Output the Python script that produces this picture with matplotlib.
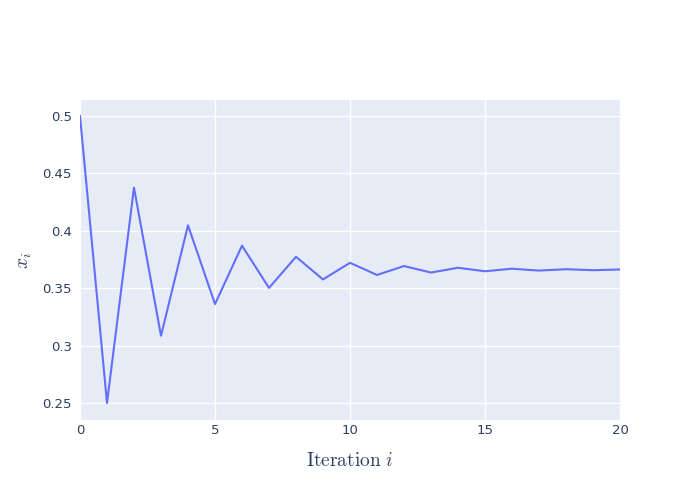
import matplotlib
matplotlib.use("Agg")
import matplotlib.pyplot as plt

iterations = list(range(21))
x_values = [0.5, 0.25, 0.4375, 0.30859, 0.40477, 0.33616, 0.38700, 0.35023,
            0.37734, 0.35762, 0.37211, 0.36153, 0.36929, 0.36362, 0.36778,
            0.36474, 0.36697, 0.36534, 0.36653, 0.36566, 0.36630]
xticks = [0, 5, 10, 15, 20]
yticks = [0.25, 0.3, 0.35, 0.4, 0.45, 0.5]
ytick_labels = ["0.25", "0.3", "0.35", "0.4", "0.45", "0.5"]

plt.rcParams['mathtext.fontset'] = 'cm'

fig = plt.figure(figsize=(7, 5), dpi=100)
ax = fig.add_axes([80 / 700, 80 / 500, 540 / 700, 320 / 500])
ax.set_facecolor('#E5ECF6')

ax.plot(iterations, x_values, color='#636EFA', linewidth=1.5, zorder=3)

ax.set_xlim(0, 20)
ax.set_ylim(0.2352, 0.5139)
ax.set_xticks(xticks)
ax.set_yticks(yticks)
ax.set_yticklabels(ytick_labels)
ax.grid(True, color='white', linewidth=1, zorder=0)
ax.set_axisbelow(True)
for s in ax.spines.values():
    s.set_visible(False)
ax.tick_params(axis='x', length=0, labelsize=9.5, labelcolor='#2a3f5f', pad=3)
ax.tick_params(axis='y', length=0, labelsize=9.5, labelcolor='#2a3f5f', pad=6)

ax.set_xlabel(r'$\mathrm{Iteration}\ i$', fontsize=14, color='#2a3f5f', labelpad=10)
ax.set_ylabel(r'$x_i$', fontsize=14, color='#2a3f5f', labelpad=6)

fig.savefig('out.png', dpi=100)
